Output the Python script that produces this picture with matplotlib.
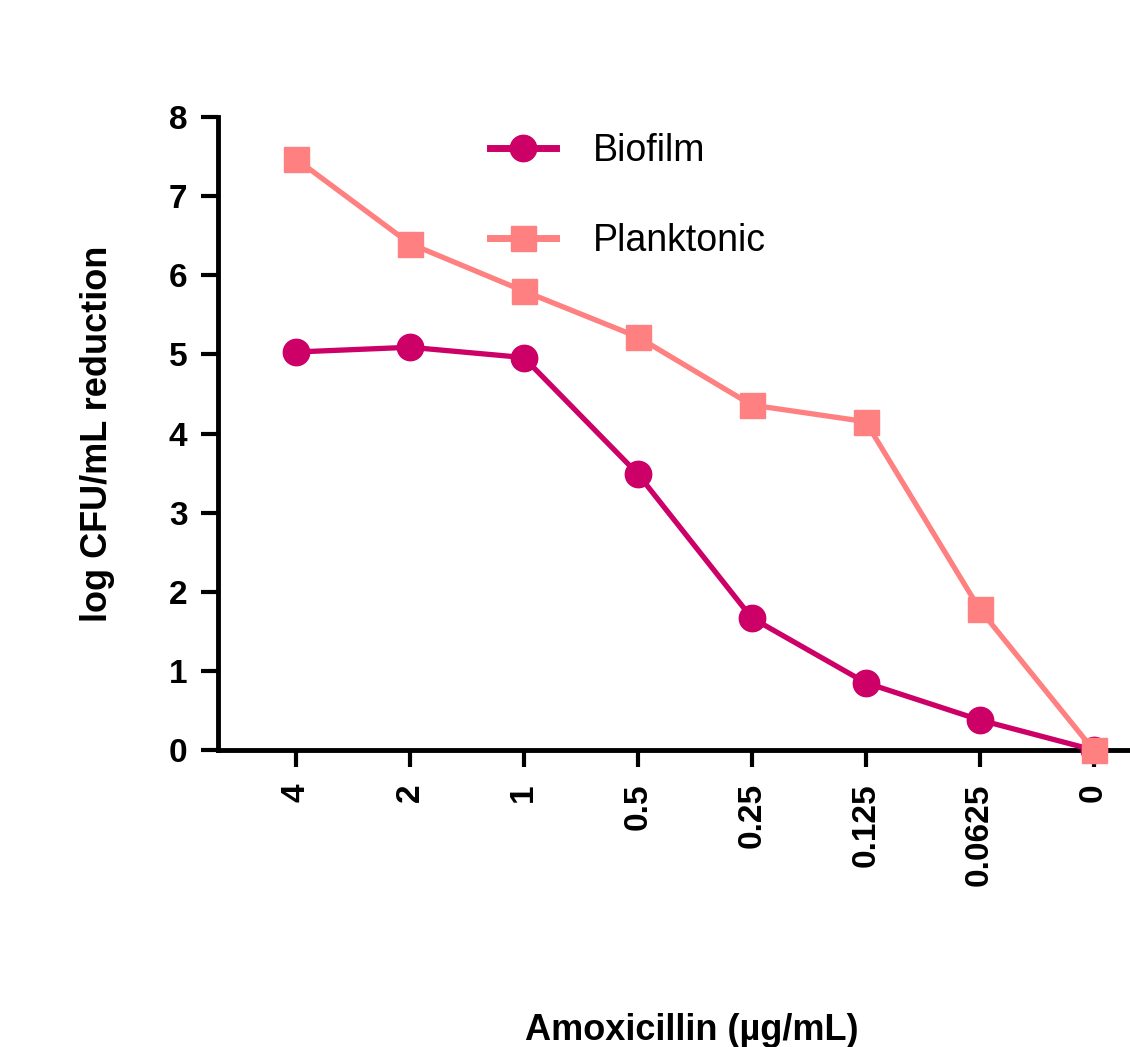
import matplotlib
matplotlib.use("Agg")
import matplotlib.pyplot as plt

categories = ["4", "2", "1", "0.5", "0.25", "0.125", "0.0625", "0"]
biofilm = [5.03, 5.09, 4.96, 3.49, 1.67, 0.85, 0.38, 0.0]
planktonic = [7.47, 6.40, 5.80, 5.22, 4.36, 4.15, 1.78, 0.0]

plt.rcParams['font.family'] = ['Liberation Sans', 'DejaVu Sans']

fig = plt.figure(figsize=(11.3, 10.47), dpi=100)
ax = fig.add_axes([218/1130, 1 - 750/1047, 1 - 218/1130, (750 - 117)/1047])

x = list(range(len(categories)))
ax.plot(x, biofilm, color='#CC0066', lw=3.8, marker='o', ms=19, label='Biofilm',
        clip_on=False, zorder=3)
ax.plot(x, planktonic, color='#FF8080', lw=3.8, marker='s', ms=18, label='Planktonic',
        clip_on=False, zorder=3)

ax.set_xlim(-0.684, 7.32)
ax.set_ylim(0, 8)
ax.set_yticks(range(0, 9))
ax.set_xticks(x)
ax.set_xticklabels(categories, rotation=90, ha='center', va='top')

for s in ['top', 'right']:
    ax.spines[s].set_visible(False)
for s in ['left', 'bottom']:
    ax.spines[s].set_linewidth(3.5)

ax.tick_params(axis='both', direction='out', length=12, width=3, labelsize=24)
ax.tick_params(axis='x', pad=12)
ax.tick_params(axis='y', pad=10)
for lab in ax.get_xticklabels() + ax.get_yticklabels():
    lab.set_fontweight('bold')

ax.set_ylabel('log CFU/mL reduction', fontsize=26, fontweight='bold')
ax.yaxis.set_label_coords(-0.113, 0.5)
fig.text(692/1130, 1 - 1030/1047, 'Amoxicillin (µg/mL)', fontsize=26, fontweight='bold',
         ha='center', va='center')

leg = ax.legend(loc='upper left', bbox_to_anchor=(490/1130, 1 - 133/1047),
                bbox_transform=fig.transFigure, frameon=False, fontsize=27,
                handlelength=1.75, handletextpad=1.0, labelspacing=1.45,
                borderpad=0, borderaxespad=0)
for ln in leg.get_lines():
    ln.set_linewidth(5)

fig.savefig('out.png', dpi=100)
